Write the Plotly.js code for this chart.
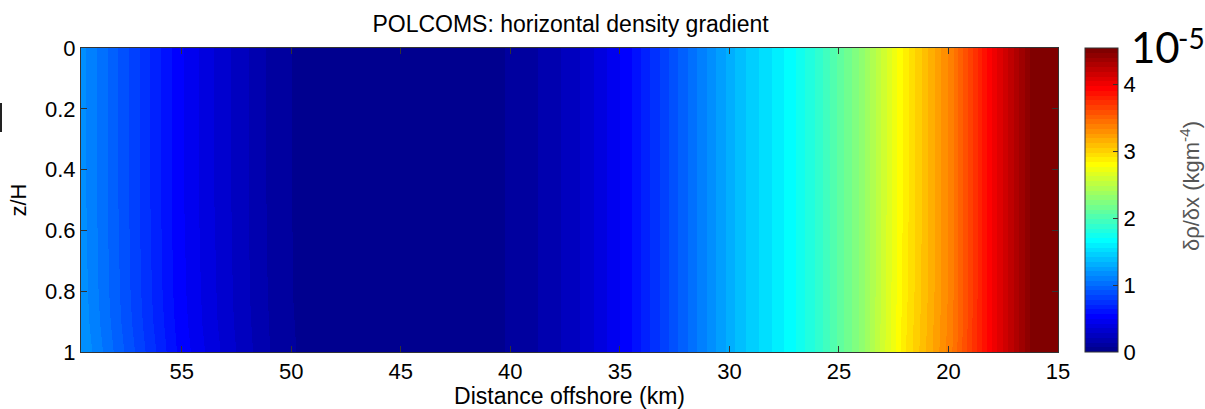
<!DOCTYPE html>
<html>
<head>
<meta charset="utf-8">
<script src="https://cdn.plot.ly/plotly-3.0.1.min.js"></script>
<style>html,body{margin:0;padding:0;background:#fff;}#chart{width:1205px;height:409px;}</style>
</head>
<body>
<div id="chart"></div>
<script>
// Distance offshore (km) sample positions
var distanceKm = [59.6, 58.5, 57.4, 56.3, 55.2, 53.8, 52.4, 51.0, 49.6, 47.0, 45.0, 43.0, 40.8, 39.3, 38.2, 37.05, 35.9, 34.7, 33.0, 31.3, 29.5, 27.24, 26.1, 24.0, 22.0, 19.9, 17.9, 16.05, 15.0];
// Normalised depth levels z/H
var depthLevels = [0, 0.5, 0.8, 0.9, 1.0];
// Horizontal density gradient (x 1e-5 kg m^-4) per depth level
var gradSurface = [1.17, 1.01, 0.85, 0.69, 0.53, 0.38, 0.25, 0.13, 0.05, 0.02, 0.01, 0.02, 0.05, 0.11, 0.18, 0.26, 0.39, 0.53, 0.82, 1.10, 1.39, 1.67, 1.85, 2.30, 2.88, 3.38, 4.02, 4.55, 4.80];
var gradMid     = [1.17, 1.01, 0.85, 0.69, 0.53, 0.38, 0.25, 0.13, 0.05, 0.02, 0.01, 0.02, 0.05, 0.11, 0.18, 0.26, 0.39, 0.53, 0.82, 1.10, 1.39, 1.67, 1.85, 2.30, 2.88, 3.38, 4.02, 4.55, 4.80];
var gradLower   = [1.18, 1.02, 0.86, 0.70, 0.54, 0.39, 0.255, 0.135, 0.05, 0.02, 0.01, 0.02, 0.05, 0.11, 0.18, 0.26, 0.39, 0.53, 0.82, 1.10, 1.39, 1.67, 1.85, 2.30, 2.89, 3.38, 4.02, 4.55, 4.80];
var gradNearBed = [1.19, 1.03, 0.87, 0.71, 0.55, 0.395, 0.26, 0.14, 0.055, 0.02, 0.01, 0.02, 0.05, 0.11, 0.18, 0.26, 0.39, 0.53, 0.82, 1.10, 1.39, 1.67, 1.85, 2.30, 2.90, 3.39, 4.02, 4.55, 4.80];
var gradBed     = [1.21, 1.05, 0.89, 0.73, 0.565, 0.41, 0.27, 0.145, 0.06, 0.02, 0.01, 0.02, 0.05, 0.11, 0.18, 0.26, 0.39, 0.53, 0.82, 1.10, 1.39, 1.67, 1.85, 2.30, 2.91, 3.40, 4.02, 4.55, 4.80];
var xTicks = [55, 50, 45, 40, 35, 30, 25, 20, 15];
var yTicks = [0, 0.2, 0.4, 0.6, 0.8, 1];
var cbTicks = [0, 1, 2, 3, 4];

// MATLAB-style 64-level jet colormap as a stepped colorscale
function jet64() {
  var n = 64, cols = [];
  for (var i = 0; i < n; i++) {
    var r, g, b;
    if (i < 8) { r = 0; g = 0; b = 0.5625 + i * 0.0625; }
    else if (i < 24) { r = 0; g = (i - 7) * 0.0625; b = 1; }
    else if (i < 40) { r = (i - 23) * 0.0625; g = 1; b = 1 - (i - 23) * 0.0625; }
    else if (i < 56) { r = 1; g = 1 - (i - 39) * 0.0625; b = 0; }
    else { r = 1 - (i - 55) * 0.0625; g = 0; b = 0; }
    cols.push('rgb(' + Math.round(r * 255) + ',' + Math.round(g * 255) + ',' + Math.round(b * 255) + ')');
  }
  var cs = [];
  for (var k = 0; k < n; k++) {
    cs.push([k / n, cols[k]]);
    cs.push([(k + 1) / n - (k < n - 1 ? 1e-6 : 0), cols[k]]);
  }
  return cs;
}

var trace = {
  type: 'heatmap',
  x: distanceKm,
  y: depthLevels,
  z: [gradSurface, gradMid, gradLower, gradNearBed, gradBed],
  zsmooth: 'best',
  zmin: 0,
  zmax: 4.55,
  colorscale: jet64(),
  hoverinfo: 'skip',
  colorbar: {
    x: 1.0276, xanchor: 'left', xpad: 0,
    y: 0.5, yanchor: 'middle', ypad: 0,
    len: 1, lenmode: 'fraction',
    thickness: 33,
    outlinecolor: '#333', outlinewidth: 1,
    tickvals: cbTicks,
    ticks: 'inside', ticklen: 5, tickcolor: '#333',
    tickfont: {family: 'Liberation Sans, Arial, sans-serif', size: 22, color: '#000'}
  }
};

var font = {family: 'Liberation Sans, Arial, sans-serif', size: 22, color: '#000'};

var layout = {
  width: 1205, height: 409,
  margin: {l: 81, r: 147, t: 48, b: 57},
  paper_bgcolor: '#fff', plot_bgcolor: '#fff',
  font: font,
  title: {text: 'POLCOMS: horizontal density gradient', font: {family: font.family, size: 23, color: '#000'}, x: 0.4735, xanchor: 'center', y: 0.942, yanchor: 'middle'},
  xaxis: {
    range: [59.6, 15], tickvals: xTicks, ticks: 'inside', ticklen: 6, tickcolor: '#333',
    showline: true, linecolor: '#333', linewidth: 1, mirror: 'allticks', showgrid: false, zeroline: false,
    tickfont: font,
    title: {text: 'Distance offshore (km)', font: {family: font.family, size: 23, color: '#000'}, standoff: 3}
  },
  yaxis: {
    range: [1, 0], tickvals: yTicks, ticks: 'inside', ticklen: 6, tickcolor: '#333',
    showline: true, linecolor: '#333', linewidth: 1, mirror: 'allticks', showgrid: false, zeroline: false,
    tickfont: font,
    title: {text: 'z/H', font: font, standoff: 12}
  },
  annotations: [
    {text: 'δρ/δx (kgm<sup>-4</sup>)', textangle: -90, xref: 'paper', yref: 'paper',
     x: (1190 - 81) / 977, y: (352 - 186) / 304, xanchor: 'center', yanchor: 'middle', showarrow: false,
     font: {family: font.family, size: 22, color: '#555'}},
    {text: '10', xref: 'paper', yref: 'paper', x: (1155 - 81) / 977, y: (352 - 47) / 304,
     xanchor: 'center', yanchor: 'middle', showarrow: false,
     font: {family: 'Lato, Liberation Sans, sans-serif', size: 42, color: '#000'}},
    {text: '-5', xref: 'paper', yref: 'paper', x: (1191 - 81) / 977, y: (352 - 38) / 304,
     xanchor: 'center', yanchor: 'middle', showarrow: false,
     font: {family: 'Lato, Liberation Sans, sans-serif', size: 28, color: '#000'}}
  ],
  shapes: [
    {type: 'line', xref: 'paper', yref: 'paper', x0: (1 - 81) / 977, x1: (1 - 81) / 977,
     y0: (352 - 103) / 304, y1: (352 - 132) / 304, line: {color: '#222', width: 2}}
  ]
};

Plotly.newPlot('chart', [trace], layout, {displayModeBar: false, staticPlot: true});
</script>
</body>
</html>
